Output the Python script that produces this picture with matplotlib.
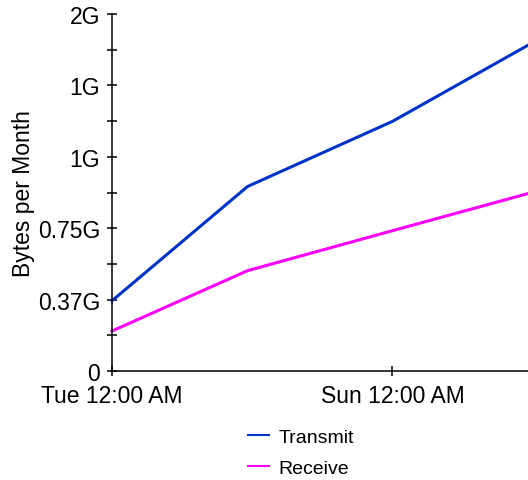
import numpy as np
import matplotlib.pyplot as plt
from matplotlib.ticker import FixedLocator

# hours since Tue 12:00 AM
hours = [0, 58, 120, 178]
transmit = [0.369, 0.969, 1.311, 1.711]  # GB
receive = [0.21, 0.527, 0.737, 0.932]

xtick_pos = [0, 120]
xtick_labels = ["Tue 12:00 AM", "Sun 12:00 AM"]
ytick_pos = [0, 0.375, 0.75, 1.125, 1.5, 1.875]
ytick_labels = ["0", "0.37G", "0.75G", "1G", "1G", "2G"]

plt.rcParams["font.family"] = ["Liberation Sans", "DejaVu Sans"]

fig = plt.figure(figsize=(5.28, 4.81), dpi=100)
ax = fig.add_axes([112 / 528, 109 / 481, 416 / 528, 357 / 481])

ax.plot(hours, transmit, color="#0033cc", lw=2.2, label="Transmit", clip_on=False)
ax.plot(hours, receive, color="#ff00ff", lw=2.2, label="Receive", clip_on=False)

ax.set_xlim(0, 178)
ax.set_ylim(0, 1.875)

ax.set_xticks(xtick_pos)
ax.set_xticklabels(xtick_labels, fontsize=16.5)
ax.set_yticks(ytick_pos)
ax.set_yticklabels(ytick_labels, fontsize=16.5)
minor = [(a + b) / 2 for a, b in zip(ytick_pos[:-1], ytick_pos[1:])]
ax.yaxis.set_minor_locator(FixedLocator(minor))

ax.tick_params(axis="both", which="both", direction="inout", length=7.2,
               width=1.1, color="black")
ax.tick_params(axis="x", pad=5.5)
ax.tick_params(axis="y", pad=5)

for s in ["top", "right"]:
    ax.spines[s].set_visible(False)
for s in ["left", "bottom"]:
    ax.spines[s].set_linewidth(1.1)
    ax.spines[s].set_color("black")

ax.set_ylabel("Bytes per Month", fontsize=16.5)
ax.yaxis.set_label_coords(-0.185, 0.5)

leg = fig.legend(loc="upper left", bbox_to_anchor=(248 / 528, 1 - 429 / 481),
                 frameon=False, fontsize=14, handlelength=1.1,
                 handletextpad=0.46, labelspacing=0.7, borderpad=0,
                 borderaxespad=0)
for h in leg.legend_handles:
    h.set_linewidth(1.5)

fig.savefig("out.png", dpi=100)
